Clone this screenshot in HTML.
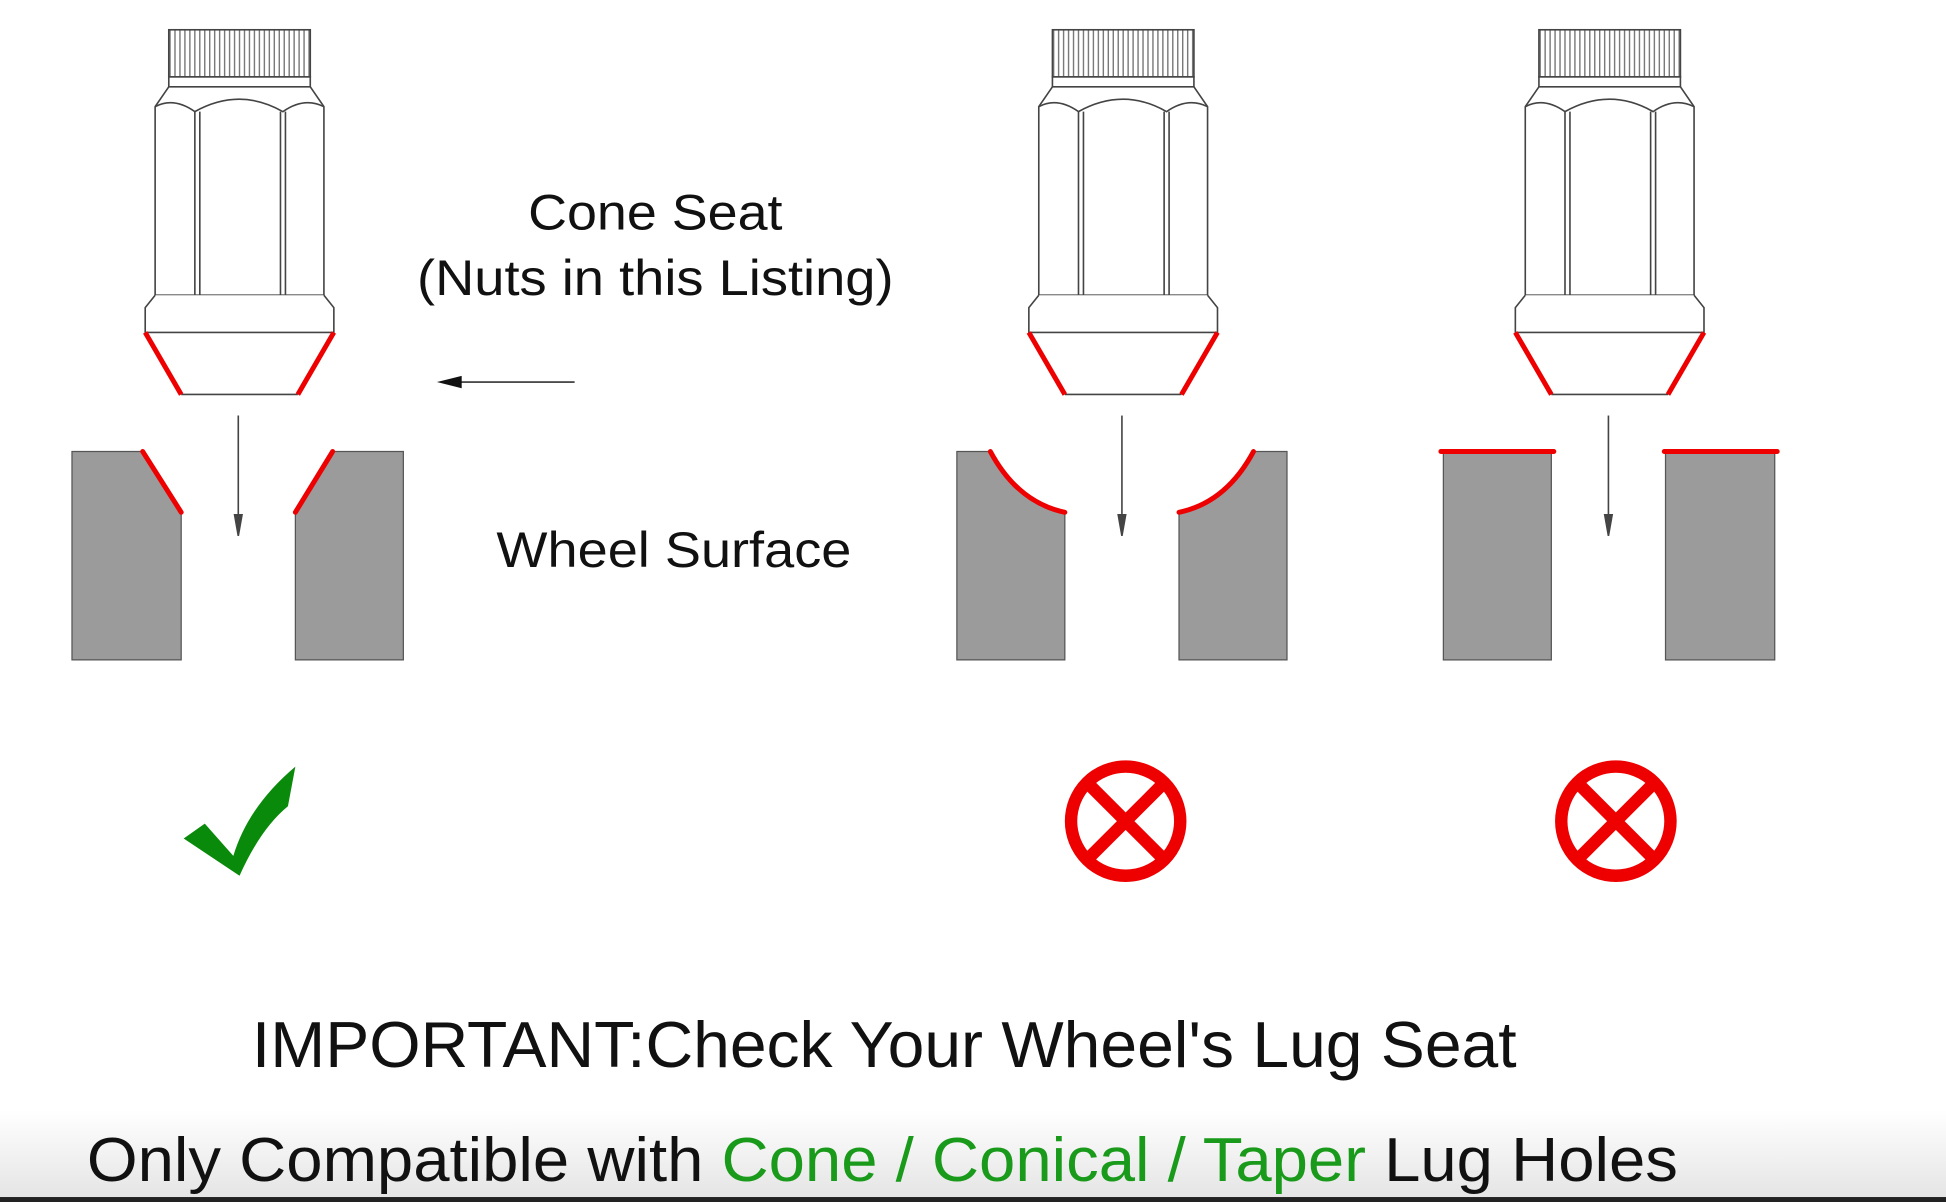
<!DOCTYPE html>
<html><head><meta charset="utf-8"><style>html,body{margin:0;padding:0;background:#fff;overflow:hidden}svg{display:block}</style></head><body>
<svg width="1946" height="1202" viewBox="0 0 1568 969" preserveAspectRatio="none" xmlns="http://www.w3.org/2000/svg">
<defs>
<linearGradient id="bg" x1="0" y1="0" x2="0" y2="1"><stop offset="0" stop-color="#fff"/><stop offset="1" stop-color="#e4e4e4"/></linearGradient>
<pattern id="kn" width="4" height="10" patternUnits="userSpaceOnUse"><rect width="4" height="10" fill="#fff"/><line x1="1" y1="0" x2="1" y2="10" stroke="#666" stroke-width="1"/></pattern>
<g id="nut" fill="none" stroke="#444" stroke-width="1.3">
<rect x="136" y="24" width="114" height="38" fill="url(#kn)"/>
<rect x="136" y="62" width="114" height="8" fill="#fff"/>
<path d="M136 70 L125 86 L125 238 L261 238 L261 86 L250 70 Z" fill="#fff"/>
<path d="M125 86 Q140 78 157 90 Q193 70 228 90 Q245 78 261 86"/>
<line x1="157" y1="90" x2="157" y2="238"/><line x1="161" y1="90" x2="161" y2="238"/>
<line x1="226" y1="90" x2="226" y2="238"/><line x1="230" y1="90" x2="230" y2="238"/>
<path d="M125 238 L117 248 L117 268 L269 268 L269 248 L261 238" fill="#fff"/>
<line x1="146" y1="318" x2="240" y2="318"/>
<line x1="117" y1="268" x2="146" y2="318" stroke="#e00" stroke-width="4"/>
<line x1="269" y1="268" x2="240" y2="318" stroke="#e00" stroke-width="4"/>
<line x1="192" y1="335" x2="192" y2="420"/>
<path d="M189 415 L192 432 L195 415 Z" fill="#444"/>
</g>
</defs>
<rect x="0" y="895" width="1568" height="72" fill="url(#bg)"/>
<rect x="0" y="965" width="1568" height="4" fill="#222"/>
<use href="#nut"/>
<use href="#nut" transform="translate(712,0)"/>
<use href="#nut" transform="translate(1104,0)"/>
<!-- wheel 1 -->
<g stroke="#555" stroke-width="1" fill="#9b9b9b">
<path d="M58 364 L115 364 L146 413 L146 532 L58 532 Z"/>
<path d="M268 364 L325 364 L325 532 L238 532 L238 413 Z"/>
<path d="M771 364 L798 364 Q820 405 858 413 L858 532 L771 532 Z"/>
<path d="M1010 364 L1037 364 L1037 532 L950 532 L950 413 Q988 405 1010 364 Z"/>
<rect x="1163" y="364" width="87" height="168"/>
<rect x="1342" y="364" width="88" height="168"/>
</g>
<g stroke="#e00" stroke-width="4" fill="none" stroke-linecap="round">
<line x1="115" y1="364" x2="146" y2="413"/>
<line x1="268" y1="364" x2="238" y2="413"/>
<path d="M798 364 Q820 405 858 413"/>
<path d="M1010 364 Q988 405 950 413"/>
<line x1="1161" y1="364" x2="1252" y2="364"/>
<line x1="1341" y1="364" x2="1432" y2="364"/>
</g>
<line x1="360" y1="308" x2="463" y2="308" stroke="#333" stroke-width="1.3"/>
<path d="M352 308 L372 303 L372 313 Z" fill="#111"/>
<g font-family="Liberation Sans, Arial, sans-serif" fill="#111">
<text x="528" y="185" font-size="40" text-anchor="middle" textLength="205" lengthAdjust="spacingAndGlyphs">Cone Seat</text>
<text x="528" y="238" font-size="40" text-anchor="middle" textLength="384" lengthAdjust="spacingAndGlyphs">(Nuts in this Listing)</text>
<text x="400" y="457" font-size="40" textLength="286" lengthAdjust="spacingAndGlyphs">Wheel Surface</text>
<text x="203" y="860" font-size="52" textLength="1019" lengthAdjust="spacingAndGlyphs">IMPORTANT:Check Your Wheel's Lug Seat</text>
<text x="70" y="952" font-size="50" textLength="1282" lengthAdjust="spacingAndGlyphs">Only Compatible with <tspan fill="#1a9a1a">Cone / Conical / Taper</tspan> Lug Holes</text>
</g>
<path d="M148 676 L165 664 L188 690 Q200 650 238 618 L232 650 Q210 668 193 706 Z" fill="#0a8a0a"/>
<g fill="none" stroke="#e00" stroke-width="10">
<circle cx="907" cy="662" r="44"/>
<line x1="879" y1="634" x2="935" y2="690"/><line x1="935" y1="634" x2="879" y2="690"/>
<circle cx="1302" cy="662" r="44"/>
<line x1="1274" y1="634" x2="1330" y2="690"/><line x1="1330" y1="634" x2="1274" y2="690"/>
</g>
</svg>
</body></html>
